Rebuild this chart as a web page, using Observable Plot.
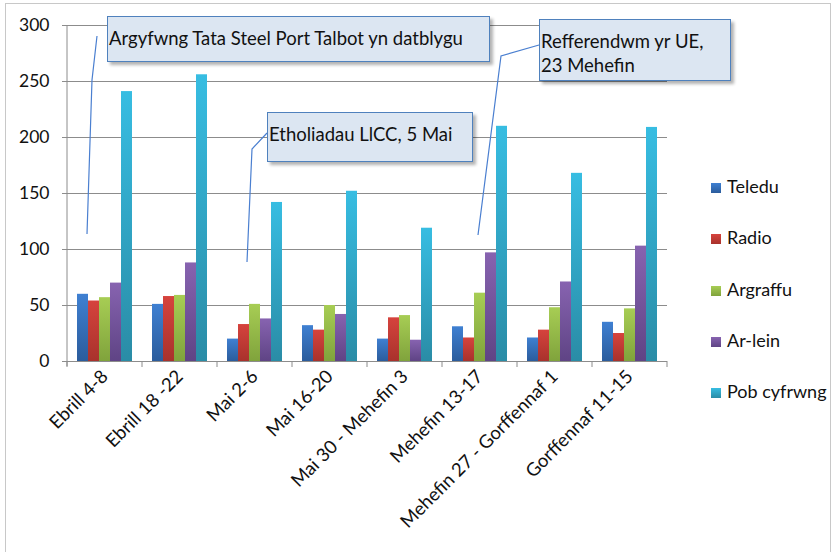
<!DOCTYPE html>
<html><head><meta charset="utf-8">
<script src="https://cdn.jsdelivr.net/npm/d3@7"></script>
<script src="https://cdn.jsdelivr.net/npm/@observablehq/plot@0.6"></script>
<style>
body{margin:0;background:#fff;font-family:Lato,"Open Sans",sans-serif;}
#wrap{position:relative;width:833px;height:552px;overflow:hidden;}
#frame{position:absolute;left:5px;top:3px;width:826px;height:600px;border:1.5px solid #c8c8c8;box-sizing:border-box;}
#chart{position:absolute;left:0;top:0;}
#callouts{position:absolute;left:0;top:0;pointer-events:none;}
.note{position:absolute;background:#dce6f2;border:1.5px solid #4f81bd;box-shadow:3px 3px 3px rgba(0,0,0,0.3);font-size:18.5px;color:#111;box-sizing:border-box;line-height:24px;padding:9px 1px;white-space:nowrap;}
.leg{position:absolute;left:711px;font-size:18px;color:#111;line-height:20px;}
.leg span{display:inline-block;width:10px;height:10px;margin-right:6px;vertical-align:0px;}
</style>
</head><body>
<div id="wrap">
<div id="frame"></div>
<div id="chart"></div>
</div>
<script>
const weeks = ["Ebrill 4-8","Ebrill 18 -22","Mai 2-6","Mai 16-20","Mai 30 - Mehefin 3","Mehefin 13-17","Mehefin 27 - Gorffennaf 1","Gorffennaf 11-15"];
const series = ["Teledu","Radio","Argraffu","Ar-lein","Pob cyfrwng"];
const teledu   = [60, 51, 20, 32, 20, 31, 21, 35];
const radio    = [54, 58, 33, 28, 39, 21, 28, 25];
const argraffu = [57, 59, 51, 50, 41, 61, 48, 47];
const arlein   = [70, 88, 38, 42, 19, 97, 71, 103];
const pob      = [241, 256, 142, 152, 119, 210, 168, 209];
const yTicks = [0, 50, 100, 150, 200, 250, 300];
const notes = ["Argyfwng Tata Steel Port Talbot yn datblygu", "Etholiadau LlCC, 5 Mai", "Refferendwm yr UE,\n23 Mehefin"];

const seriesValues = [teledu, radio, argraffu, arlein, pob];
const gradTop = ["#3f80d2", "#d6433d", "#a7cd54", "#8763b0", "#37bde2"];
const gradBot = ["#2b5c9c", "#a8322c", "#80a33c", "#5f4485", "#2a8ca6"];

const rows = [];
weeks.forEach((w, i) => series.forEach((s, j) => rows.push({week: w, series: s, value: seriesValues[j][i]})));

const plot = Plot.plot({
  width: 833, height: 552,
  marginLeft: 67, marginRight: 166, marginTop: 25, marginBottom: 191,
  style: {fontFamily: "Lato, 'Open Sans', sans-serif", fontSize: "16px", color: "#111", background: "transparent", overflow: "visible"},
  fx: {domain: weeks, padding: 0, label: null, axis: null},
  x: {domain: series, paddingInner: 0, paddingOuter: 0.79, axis: null},
  y: {domain: [0, 300], label: null},
  color: {domain: series, range: series.map((s, i) => `url(#g${i})`)},
  marks: [
    Plot.gridY(yTicks, {stroke: "#8c8c8c", strokeOpacity: 1, strokeWidth: 1}),
    Plot.ruleY([0], {stroke: "#8c8c8c", strokeWidth: 1}),
    Plot.axisY(yTicks, {tickSize: 5, tickPadding: 13, fontSize: 17.5, stroke: "#8c8c8c", label: null}),
    Plot.barY(rows, {fx: "week", x: "series", y: "value", fill: "series"}),
    Plot.axisFx({anchor: "bottom", tickRotate: -45, tickSize: 0, tickPadding: 12, fontSize: 18.5, label: null})
  ]
});
document.getElementById("chart").appendChild(plot);

const svg = d3.select(plot);
const defs = svg.insert("defs", ":first-child");
series.forEach((s, i) => {
  const g = defs.append("linearGradient").attr("id", `g${i}`).attr("x1", 0).attr("y1", 0).attr("x2", 0).attr("y2", 1);
  g.append("stop").attr("offset", "0%").attr("stop-color", gradTop[i]);
  g.append("stop").attr("offset", "100%").attr("stop-color", gradBot[i]);
});

// axis lines: left vertical axis and category boundary ticks
const fxs = plot.scale("fx");
const ys = plot.scale("y");
const y0 = ys.apply(0), yTop = ys.apply(300);
const bounds = weeks.map(w => fxs.apply(w));
bounds.push(fxs.apply(weeks[weeks.length - 1]) + fxs.bandwidth);
const ax = svg.append("g").attr("stroke", "#8c8c8c").attr("stroke-width", 1);
ax.append("line").attr("x1", bounds[0]).attr("x2", bounds[0]).attr("y1", yTop).attr("y2", y0 + 5);
bounds.forEach(b => ax.append("line").attr("x1", b).attr("x2", b).attr("y1", y0).attr("y2", y0 + 6));

// callouts
const wrap = document.getElementById("wrap");
const cs = d3.select(wrap).append("svg").attr("id", "callouts").attr("width", 833).attr("height", 552);
const lines = [
  [[97, 36], [92, 80], [87, 234]],
  [[267, 133], [252, 149], [247, 262]],
  [[539, 45], [501, 56], [478, 235]]
];
lines.forEach(p => cs.append("polyline").attr("points", p.map(q => q.join(",")).join(" "))
  .attr("fill", "none").attr("stroke", "#4a7fd0").attr("stroke-width", 1.2));

const boxes = [
  {left: 107, top: 16, width: 383, height: 46},
  {left: 267, top: 112, width: 206, height: 50},
  {left: 539, top: 19, width: 192, height: 62}
];
notes.forEach((t, i) => {
  const d = document.createElement("div");
  d.className = "note";
  const b = boxes[i];
  Object.assign(d.style, {left: b.left + "px", top: b.top + "px", width: b.width + "px", height: b.height + "px"});
  d.innerHTML = t.split("\n").join("<br>");
  wrap.appendChild(d);
});

// legend
const legY = [186, 237, 289, 340, 391];
series.forEach((s, i) => {
  const d = document.createElement("div");
  d.className = "leg";
  d.style.top = (legY[i] - 10) + "px";
  d.innerHTML = `<span style="background:linear-gradient(${gradTop[i]},${gradBot[i]})"></span>${s}`;
  wrap.appendChild(d);
});
</script>
</body></html>
